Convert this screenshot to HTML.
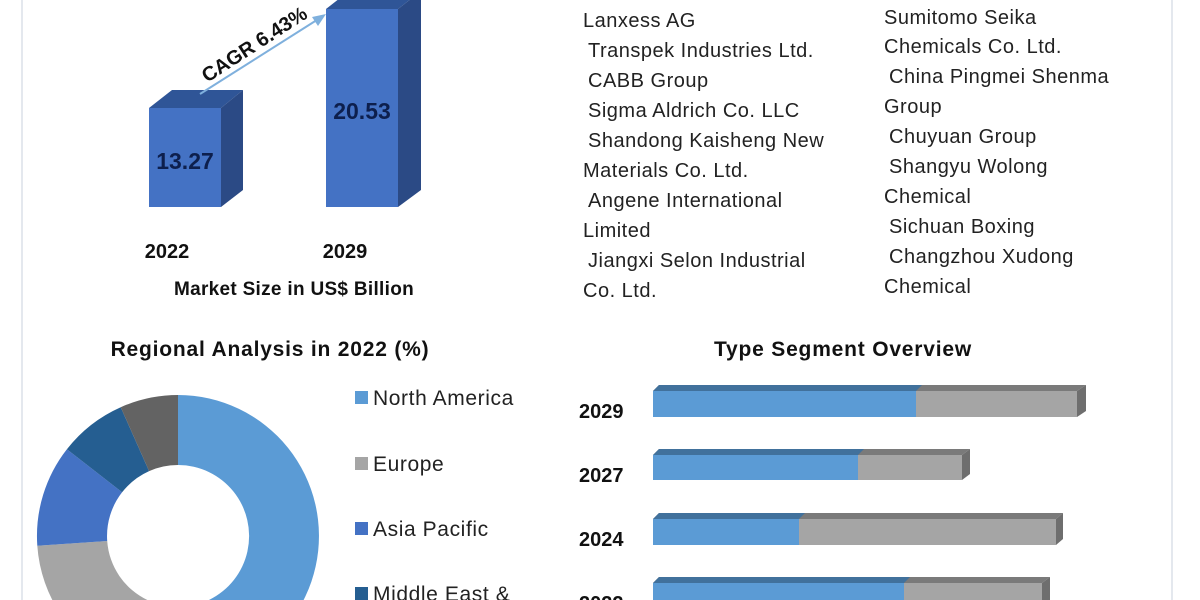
<!DOCTYPE html>
<html><head><meta charset="utf-8"><style>
html,body{margin:0;padding:0;background:#fff;width:1200px;height:600px;overflow:hidden;}
svg{display:block;font-family:"Liberation Sans",sans-serif;}
</style></head><body>
<svg width="1200" height="600" viewBox="0 0 1200 600">
<rect width="1200" height="600" fill="#fff"/>
<line x1="22" y1="0" x2="22" y2="600" stroke="#e4e8ee" stroke-width="2"/>
<line x1="1172" y1="0" x2="1172" y2="600" stroke="#e4e8ee" stroke-width="2"/>
<!-- 3D bars -->
<polygon points="149,108 172,90 243,90 221,108" fill="#2f5597"/>
<polygon points="221,108 243,90 243,190 221,207" fill="#2b4a85"/>
<rect x="149" y="108" width="72" height="99" fill="#4472c4"/>
<polygon points="326,9 349,-9 421,-9 398,9" fill="#2f5597"/>
<polygon points="398,9 421,-9 421,190 398,207" fill="#2b4a85"/>
<rect x="326" y="9" width="72" height="198" fill="#4472c4"/>
<text x="185" y="169" text-anchor="middle" font-size="23" font-weight="bold" fill="#0d1f4d">13.27</text>
<text x="362" y="119" text-anchor="middle" font-size="23" font-weight="bold" fill="#0d1f4d">20.53</text>
<line x1="200" y1="94" x2="320" y2="18" stroke="#7fb0dd" stroke-width="2"/>
<polygon points="326,14 312,17 318,26" fill="#7fb0dd"/>
<text x="258" y="50" text-anchor="middle" font-size="20" font-weight="bold" fill="#111" transform="rotate(-33 258 50)">CAGR 6.43%</text>
<text x="167" y="258" text-anchor="middle" font-size="20" font-weight="bold" fill="#111">2022</text>
<text x="345" y="258" text-anchor="middle" font-size="20" font-weight="bold" fill="#111">2029</text>
<text x="294" y="295" text-anchor="middle" font-size="19" font-weight="bold" fill="#111" letter-spacing="0.3">Market Size in US$ Billion</text>
<!-- list -->
<g font-size="20" fill="#222" letter-spacing="0.5">
<text x="583" y="27">Lanxess AG</text>
<text x="588" y="57">Transpek Industries Ltd.</text>
<text x="588" y="87">CABB Group</text>
<text x="588" y="117">Sigma Aldrich Co. LLC</text>
<text x="588" y="147">Shandong Kaisheng New</text>
<text x="583" y="177">Materials Co. Ltd.</text>
<text x="588" y="207">Angene International</text>
<text x="583" y="237">Limited</text>
<text x="588" y="267">Jiangxi Selon Industrial</text>
<text x="583" y="297">Co. Ltd.</text>
<text x="884" y="24">Sumitomo Seika</text>
<text x="884" y="53">Chemicals Co. Ltd.</text>
<text x="889" y="83">China Pingmei Shenma</text>
<text x="884" y="113">Group</text>
<text x="889" y="143">Chuyuan Group</text>
<text x="889" y="173">Shangyu Wolong</text>
<text x="884" y="203">Chemical</text>
<text x="889" y="233">Sichuan Boxing</text>
<text x="889" y="263">Changzhou Xudong</text>
<text x="884" y="293">Chemical</text>
</g>
<!-- donut -->
<text x="270" y="356" text-anchor="middle" font-size="21" font-weight="bold" fill="#111" letter-spacing="0.8">Regional Analysis in 2022 (%)</text>
<g transform="translate(178,536)" stroke="none">
<path d="M0,-141 A141,141 0 1 1 -59.6,127.8 L-30,64.3 A71,71 0 1 0 0,-71 Z" fill="#5b9bd5"/>
<path d="M-59.6,127.8 A141,141 0 0 1 -140.7,9.8 L-70.8,5 A71,71 0 0 0 -30,64.3 Z" fill="#a5a5a5"/>
<path d="M-140.7,9.8 A141,141 0 0 1 -111.1,-86.8 L-55.9,-43.7 A71,71 0 0 0 -70.8,5 Z" fill="#4472c4"/>
<path d="M-111.1,-86.8 A141,141 0 0 1 -57.3,-128.8 L-28.9,-64.9 A71,71 0 0 0 -55.9,-43.7 Z" fill="#255e91"/>
<path d="M-57.3,-128.8 A141,141 0 0 1 0,-141 L0,-71 A71,71 0 0 0 -28.9,-64.9 Z" fill="#636363"/>
</g>
<g font-size="21" fill="#222" letter-spacing="0.6">
<rect x="355" y="391" width="13" height="13" fill="#5b9bd5"/><text x="373" y="405">North America</text>
<rect x="355" y="457" width="13" height="13" fill="#a5a5a5"/><text x="373" y="471">Europe</text>
<rect x="355" y="522" width="13" height="13" fill="#4472c4"/><text x="373" y="536">Asia Pacific</text>
<rect x="355" y="587" width="13" height="13" fill="#255e91"/><text x="373" y="601">Middle East &amp;</text>
</g>
<!-- type segment -->
<text x="843" y="356" text-anchor="middle" font-size="21" font-weight="bold" fill="#111" letter-spacing="0.8">Type Segment Overview</text>
<g font-size="20" font-weight="bold" fill="#111">
<text x="579" y="418">2029</text>
<text x="579" y="482">2027</text>
<text x="579" y="546">2024</text>
<text x="579" y="610">2022</text>
</g>
<g>
<polygon points="653,391 659,385 1086,385 1077,391" fill="#7a7a7a"/>
<polygon points="653,391 659,385 922,385 916,391" fill="#41719c"/>
<polygon points="1077,391 1086,385 1086,411 1077,417" fill="#6e6e6e"/>
<rect x="653" y="391" width="263" height="26" fill="#5b9bd5"/><rect x="916" y="391" width="161" height="26" fill="#a5a5a5"/>

<polygon points="653,455 659,449 970,449 962,455" fill="#7a7a7a"/>
<polygon points="653,455 659,449 864,449 858,455" fill="#41719c"/>
<polygon points="962,455 970,449 970,474 962,480" fill="#6e6e6e"/>
<rect x="653" y="455" width="205" height="25" fill="#5b9bd5"/><rect x="858" y="455" width="104" height="25" fill="#a5a5a5"/>

<polygon points="653,519 659,513 1063,513 1056,519" fill="#7a7a7a"/>
<polygon points="653,519 659,513 805,513 799,519" fill="#41719c"/>
<polygon points="1056,519 1063,513 1063,539 1056,545" fill="#6e6e6e"/>
<rect x="653" y="519" width="146" height="26" fill="#5b9bd5"/><rect x="799" y="519" width="257" height="26" fill="#a5a5a5"/>

<polygon points="653,583 659,577 1050,577 1042,583" fill="#7a7a7a"/>
<polygon points="653,583 659,577 910,577 904,583" fill="#41719c"/>
<polygon points="1042,583 1050,577 1050,603 1042,609" fill="#6e6e6e"/>
<rect x="653" y="583" width="251" height="26" fill="#5b9bd5"/><rect x="904" y="583" width="138" height="26" fill="#a5a5a5"/>
</g>
</svg>
</body></html>
